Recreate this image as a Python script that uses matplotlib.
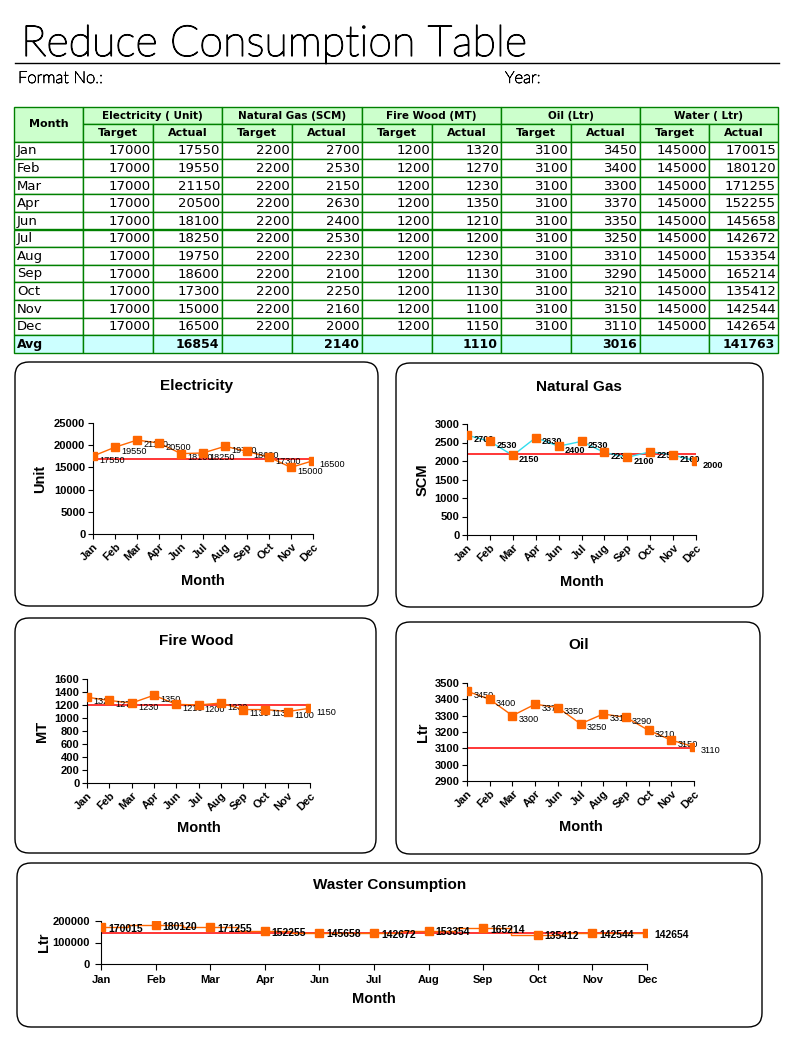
import matplotlib.pyplot as plt
import matplotlib.patheffects as pe
from matplotlib.patches import Rectangle, FancyBboxPatch

W, H = 794, 1041

months = ['Jan', 'Feb', 'Mar', 'Apr', 'Jun', 'Jul', 'Aug', 'Sep', 'Oct', 'Nov', 'Dec']

elec_target = [17000] * 11
elec_actual = [17550, 19550, 21150, 20500, 18100, 18250, 19750, 18600, 17300, 15000, 16500]
gas_target = [2200] * 11
gas_actual = [2700, 2530, 2150, 2630, 2400, 2530, 2230, 2100, 2250, 2160, 2000]
wood_target = [1200] * 11
wood_actual = [1320, 1270, 1230, 1350, 1210, 1200, 1230, 1130, 1130, 1100, 1150]
oil_target = [3100] * 11
oil_actual = [3450, 3400, 3300, 3370, 3350, 3250, 3310, 3290, 3210, 3150, 3110]
water_target = [145000] * 11
water_actual = [170015, 180120, 171255, 152255, 145658, 142672, 153354, 165214, 135412, 142544, 142654]

avg_actual = [16854, 2140, 1110, 3016, 141763]
group_titles = ['Electricity ( Unit)', 'Natural Gas (SCM)', 'Fire Wood (MT)', 'Oil (Ltr)', 'Water ( Ltr)']

ORANGE = '#ff6600'
GREEN = '#008000'
TFONT = 'DejaVu Sans'
CFONT = 'Liberation Sans'

fig = plt.figure(figsize=(W / 100, H / 100), dpi=100)
bg = fig.add_axes([0, 0, 1, 1])
bg.set_xlim(0, W)
bg.set_ylim(H, 0)
bg.axis('off')

# header (thin geometric look: light face, darkened with a thin stroke)
thin = [pe.withStroke(linewidth=0.9, foreground='black')]
bg.text(21, 56, 'Reduce Consumption Table', fontsize=31, family='Lato', fontweight='light',
        va='baseline', color='black', path_effects=thin)
bg.plot([15, 779], [63, 63], color='black', lw=1)
bg.text(18, 78, 'Format No.:', fontsize=12, family='Lato', fontweight='light', va='center',
        path_effects=[pe.withStroke(linewidth=0.5, foreground='black')])
bg.text(505, 78, 'Year:', fontsize=12, family='Lato', fontweight='light', va='center',
        path_effects=[pe.withStroke(linewidth=0.5, foreground='black')])

# table
col_x = [14, 83, 153, 222, 292, 362, 432, 501, 571, 640, 709, 778]
row_h = 17.6
top = 107
hdr1, hdr2 = 124, 141.5


def cell(x0, y0, x1, y1, fc):
    bg.add_patch(Rectangle((x0, y0), x1 - x0, y1 - y0, facecolor=fc, edgecolor=GREEN, lw=1))


cell(col_x[0], top, col_x[1], hdr2, '#ccffcc')
bg.text((col_x[0] + col_x[1]) / 2, (top + hdr2) / 2, 'Month', ha='center', va='center',
        fontsize=8, fontweight='bold', family=TFONT)
for g in range(5):
    xa, xb, xc = col_x[1 + 2 * g], col_x[2 + 2 * g], col_x[3 + 2 * g]
    cell(xa, top, xc, hdr1, '#ccffcc')
    bg.text((xa + xc) / 2, (top + hdr1) / 2 + 0.5, group_titles[g], ha='center', va='center',
            fontsize=7.5, fontweight='bold', family=TFONT)
    cell(xa, hdr1, xb, hdr2, '#ccffcc')
    cell(xb, hdr1, xc, hdr2, '#ccffcc')
    bg.text((xa + xb) / 2, (hdr1 + hdr2) / 2 + 0.5, 'Target', ha='center', va='center',
            fontsize=8, fontweight='bold', family=TFONT)
    bg.text((xb + xc) / 2, (hdr1 + hdr2) / 2 + 0.5, 'Actual', ha='center', va='center',
            fontsize=8, fontweight='bold', family=TFONT)

cols = [elec_target, elec_actual, gas_target, gas_actual, wood_target, wood_actual,
        oil_target, oil_actual, water_target, water_actual]
for i, m in enumerate(months):
    y0 = hdr2 + i * row_h
    y1 = y0 + row_h
    cell(col_x[0], y0, col_x[1], y1, 'white')
    bg.text(col_x[0] + 3, (y0 + y1) / 2 + 0.5, m, ha='left', va='center', fontsize=9.5,
            family=TFONT)
    for c, vals in enumerate(cols):
        cell(col_x[c + 1], y0, col_x[c + 2], y1, 'white')
        bg.text(col_x[c + 2] - 2, (y0 + y1) / 2 + 0.5, str(vals[i]), ha='right', va='center',
                fontsize=9.5, family=TFONT)

y0 = hdr2 + 11 * row_h
y1 = y0 + row_h
cell(col_x[0], y0, col_x[1], y1, '#ccffff')
bg.text(col_x[0] + 3, (y0 + y1) / 2 + 0.5, 'Avg', ha='left', va='center', fontsize=9,
        fontweight='bold', family=TFONT)
for c in range(10):
    cell(col_x[c + 1], y0, col_x[c + 2], y1, '#ccffff')
    if c % 2 == 1:
        bg.text(col_x[c + 2] - 3, (y0 + y1) / 2 + 0.5, str(avg_actual[c // 2]), ha='right',
                va='center', fontsize=9, fontweight='bold', family=TFONT)

# chart boxes
boxes = [(15, 362, 378, 606), (396, 363, 763, 607), (15, 618, 376, 853),
         (396, 622, 760, 854), (17, 863, 762, 1027)]
for x0, y0, x1, y1 in boxes:
    bg.add_patch(FancyBboxPatch((x0, y0), x1 - x0, y1 - y0,
                                boxstyle='round,pad=0,rounding_size=14',
                                facecolor='white', edgecolor='black', lw=1))


def px_axes(x0, y0, x1, y1):
    return fig.add_axes([x0 / W, 1 - y1 / H, (x1 - x0) / W, (y1 - y0) / H])


def style_ticks(ax, size):
    for lab in ax.get_xticklabels() + ax.get_yticklabels():
        lab.set_fontsize(size)
        lab.set_fontweight('bold')
        lab.set_family(CFONT)
    ax.spines['top'].set_visible(False)
    ax.spines['right'].set_visible(False)
    ax.patch.set_alpha(0)


def small_chart(rect, title, ylabel, actual, target, ylim, step, line_color, title_xy,
                ylab_x, month_y, lbl_bold=False):
    ax = px_axes(*rect)
    x = list(range(len(months)))
    ax.plot(x, target, color='red', lw=1.1, zorder=2)
    ax.plot(x, actual, color=line_color, lw=1, zorder=3)
    ax.plot(x, actual, 's', color=ORANGE, ms=5.8, zorder=4)
    for xi, v in zip(x, actual):
        ax.annotate(str(v), (xi, v), xytext=(4.5, -3), textcoords='offset points',
                    fontsize=6.6, family=CFONT, fontweight='bold' if lbl_bold else 'normal',
                    va='center', ha='left')
    ax.set_xlim(0, len(months) - 1)
    ax.set_ylim(*ylim)
    ax.set_yticks(range(ylim[0], ylim[1] + 1, step))
    ax.set_xticks(x)
    ax.set_xticklabels(months, rotation=45, ha='right', rotation_mode='anchor')
    style_ticks(ax, 8)
    ax.tick_params(direction='out', length=3.5, width=0.8, pad=2)
    bg.text(title_xy[0], title_xy[1], title, ha='center', va='center', fontsize=11,
            family=CFONT, fontweight='bold')
    bg.text(ylab_x, (rect[1] + rect[3]) / 2, ylabel, ha='center', va='center', rotation=90,
            fontsize=10.5, family=CFONT, fontweight='bold')
    bg.text((rect[0] + rect[2]) / 2, month_y, 'Month', ha='center', va='center',
            fontsize=10.5, family=CFONT, fontweight='bold')
    return ax


small_chart((93, 423, 313, 534), 'Electricity', 'Unit', elec_actual, elec_target,
            (0, 25000), 5000, ORANGE, (197, 386), 40, 581)
small_chart((467, 424, 696, 535), 'Natural Gas', 'SCM', gas_actual, gas_target,
            (0, 3000), 500, '#33ddee', (579, 387), 423, 582, lbl_bold=True)
small_chart((87, 679, 310, 783), 'Fire Wood', 'MT', wood_actual, wood_target,
            (0, 1600), 200, ORANGE, (196, 641), 42, 828)
small_chart((467, 683, 694, 781), 'Oil', 'Ltr', oil_actual, oil_target,
            (2900, 3500), 100, ORANGE, (579, 645), 423, 827)

# water chart
ax = px_axes(101, 921, 647, 964)
x = list(range(len(months)))
ax.plot(x, water_target, color='red', lw=1.1, zorder=2)
ax.plot(x, water_actual, color=ORANGE, lw=1, drawstyle='steps-mid', zorder=3)
ax.plot(x, water_actual, 's', color=ORANGE, ms=5.8, zorder=4)
for xi, v in zip(x, water_actual):
    ax.annotate(str(v), (xi, v), xytext=(5, -1), textcoords='offset points',
                fontsize=7.5, family=CFONT, fontweight='bold', va='center', ha='left')
ax.set_xlim(0, len(months) - 1)
ax.set_ylim(0, 200000)
ax.set_yticks([0, 100000, 200000])
ax.set_xticks(x)
ax.set_xticklabels(months)
style_ticks(ax, 8)
ax.tick_params(direction='out', length=4, width=0.8, pad=4)
bg.text(390, 885, 'Waster Consumption', ha='center', va='center', fontsize=11,
        family=CFONT, fontweight='bold')
bg.text(44, 942, 'Ltr', ha='center', va='center', rotation=90, fontsize=10.5,
        family=CFONT, fontweight='bold')
bg.text(374, 999, 'Month', ha='center', va='center', fontsize=10.5, family=CFONT,
        fontweight='bold')

fig.savefig('out.png', dpi=100)
